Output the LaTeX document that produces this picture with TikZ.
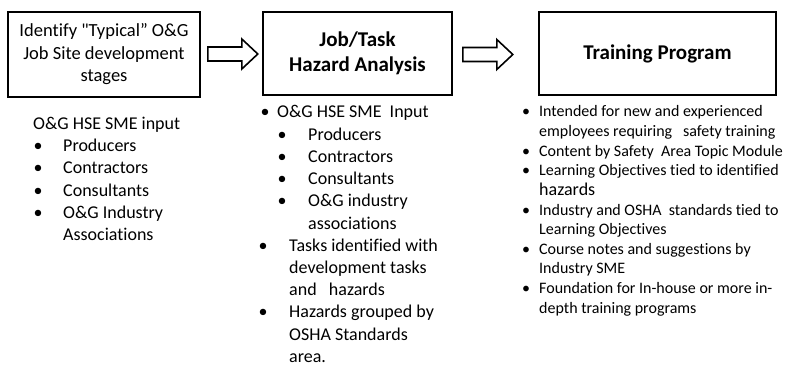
\documentclass[tikz,border=0pt]{standalone}
\usepackage{fontspec}
\setmainfont{Carlito}[Ligatures={NoCommon}]
% Carlito loaded without the TeX mapping, for a straight double quote
\font\plainquotefont="Carlito" at 18.5pt
\newcommand{\straightquote}{{\plainquotefont\char34}}
\begin{document}
\begin{tikzpicture}[x=1pt,y=-1pt,
  stagebox/.style={draw, line width=1.6pt, inner sep=0pt, align=center},
  bodytext/.style={font=\fontsize{18}{22.2}\selectfont},
  smalltext/.style={font=\fontsize{16}{19.6}\selectfont},
  titletext/.style={font=\fontsize{21}{25}\selectfont\bfseries},
  line/.style={anchor=base west, inner sep=0pt},
  dot/.style={anchor=base, inner sep=0pt},
  blockarrow/.pic={\draw[line width=1.6pt, line join=miter]
      (0,-7) -- (34,-7) -- (34,-15) -- (50,0) -- (34,15) -- (34,7) -- (0,7) -- cycle;}]
\useasboundingbox (0,0) rectangle (786,366);

% process boxes
\node[stagebox, minimum width=192pt, minimum height=85pt,
      font=\fontsize{18.5}{22.5}\selectfont] (stages) at (104,54.5)
  {Identify \straightquote Typical” O\&G\\Job Site development\\stages};
\node[stagebox, minimum width=189pt, minimum height=83pt, titletext] (jha) at (357.5,53.5)
  {Job/Task\\Hazard Analysis};
\node[stagebox, minimum width=237pt, minimum height=83pt, titletext] (training) at (657.5,53.5)
  {Training Program};

% block arrows between the boxes
\coordinate (a1) at ([xshift=7pt,yshift=0.5pt]stages.east);
\coordinate (a2) at ([xshift=10pt,yshift=-1pt]jha.east);
\pic at (a1) {blockarrow};
\pic at (a2) {blockarrow};

% left column
\begin{scope}[bodytext]
\node[line] (l0) at (33,130) {O\&G HSE SME input};
\foreach \y/\t [count=\i] in {152/Producers,174/Contractors,196/Consultants,218/O\&G Industry}{
  \node[dot] (lb\i) at (38,\y) {•};
  \node[line] (l\i) at (63,\y) {\t};
}
\node[line] (l5) at (63,240) {Associations};
\end{scope}

% middle column
\begin{scope}[bodytext]
\node[dot] (mb0) at (265,118) {•};
\node[line] (m0) at (277,118) {O\&G HSE SME\ \ Input};
\foreach \y/\t [count=\i] in {140.2/Producers,162.4/Contractors,184.6/Consultants,206.8/O\&G industry}{
  \node[dot] (mbs\i) at (282,\y) {•};
  \node[line] (ms\i) at (308,\y) {\t};
}
\node[line] (ms5) at (308,229) {associations};
\node[dot] (mb1) at (263,251.2) {•};
\node[line] (m1) at (289,251.2) {Tasks identified with};
\node[line] (m2) at (289,273.4) {development tasks};
\node[line] (m3) at (289,295.6) {and\ \ \ hazards};
\node[dot] (mb2) at (263,317.8) {•};
\node[line] (m4) at (289,317.8) {Hazards grouped by};
\node[line] (m5) at (289,340) {OSHA Standards};
\node[line] (m6) at (289,362) {area.};
\end{scope}

% right column
\begin{scope}[smalltext]
\node[dot] (rb1) at (526,117) {•};
\node[line] (r1) at (539,117) {Intended for new and experienced};
\node[line] (r2) at (539,136.6) {employees requiring\ \ \ safety training};
\node[dot] (rb2) at (526,156.2) {•};
\node[line] (r3) at (539,156.2) {Content by Safety\ \ Area Topic Module};
\node[dot] (rb3) at (526,175.8) {•};
\node[line] (r4) at (539,175.8) {Learning Objectives tied to identified};
\node[line, bodytext] (r5) at (539,195.4) {hazards};
\node[dot] (rb4) at (526,215) {•};
\node[line] (r6) at (539,215) {Industry and OSHA\ \ standards tied to};
\node[line] (r7) at (539,234.6) {Learning Objectives};
\node[dot] (rb5) at (526,254.2) {•};
\node[line] (r8) at (539,254.2) {Course notes and suggestions by};
\node[line] (r9) at (539,273.8) {Industry SME};
\node[dot] (rb6) at (526,293.4) {•};
\node[line] (r10) at (539,293.4) {Foundation for In-house or more in-};
\node[line] (r11) at (539,313) {depth training programs};
\end{scope}
\end{tikzpicture}
\end{document}
